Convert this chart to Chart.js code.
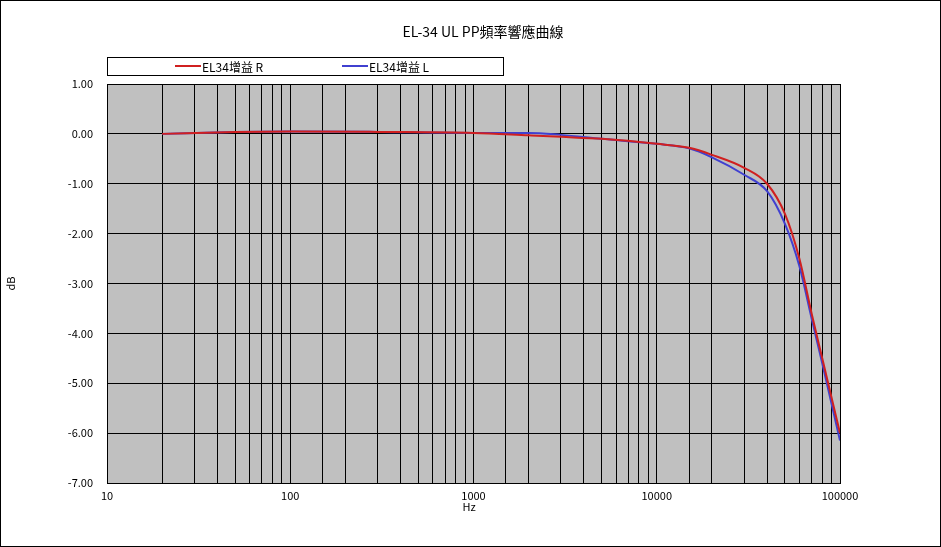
<html>
<head>
<script src="https://cdn.jsdelivr.net/npm/chart.js@4/dist/chart.umd.min.js"></script>
<style>body{margin:0;background:#fff}#wrap{width:941px;height:547px;position:relative}</style>
</head>
<body>
<div id="wrap"><canvas id="c" width="941" height="547"></canvas></div>
<script>
var freqs = [20, 50, 100, 300, 1000, 2000, 3000, 5000, 10000, 15000, 20000, 30000, 40000, 50000, 60000, 70000, 80000, 100000];
var gainR = [0, 0.04, 0.05, 0.04, 0.02, -0.03, -0.06, -0.1, -0.2, -0.28, -0.42, -0.68, -1.0, -1.6, -2.5, -3.6, -4.5, -6.0];
var gainL = [0, 0.04, 0.05, 0.04, 0.02, 0.02, -0.02, -0.1, -0.2, -0.29, -0.47, -0.82, -1.15, -1.8, -2.65, -3.7, -4.6, -6.15];
var titleText = 'EL-34 UL PP頻率響應曲線';
var labelR = 'EL34增益 R', labelL = 'EL34增益 L';
var xTitle = 'Hz';
var font = '"Noto Sans CJK TC", "DejaVu Sans", sans-serif';

function pts(v) { return freqs.map(function(f, i) { return {x: f, y: v[i]}; }); }

var deco = {
  id: 'deco',
  beforeDraw: function(ch) {
    var c = ch.ctx, a = ch.chartArea;
    c.save();
    c.fillStyle = '#c0c0c0';
    c.fillRect(a.left, a.top, a.right - a.left, a.bottom - a.top);
    c.restore();
  },
  afterDraw: function(ch) {
    var c = ch.ctx;
    c.save();
    c.strokeStyle = '#000'; c.lineWidth = 1;
    c.strokeRect(0.5, 0.5, 940, 546);
    c.fillStyle = '#000';
    c.font = '14px ' + font; c.textAlign = 'center'; c.textBaseline = 'middle';
    c.fillText(titleText, 483, 32);
    c.font = '11px ' + font;
    c.fillText(xTitle, 469, 507);
    c.fillStyle = '#fff';
    c.fillRect(107, 57, 396, 18);
    c.strokeRect(107.5, 57.5, 396, 18);
    c.font = '12px ' + font; c.textAlign = 'left';
    c.lineWidth = 2;
    c.strokeStyle = '#d02020'; c.beginPath(); c.moveTo(175, 66); c.lineTo(201, 66); c.stroke();
    c.strokeStyle = '#4040d0'; c.beginPath(); c.moveTo(342, 66); c.lineTo(368, 66); c.stroke();
    c.fillStyle = '#000';
    c.fillText(labelR, 202, 67);
    c.fillText(labelL, 369, 67);
    c.restore();
  }
};

new Chart(document.getElementById('c'), {
  type: 'line',
  data: { datasets: [
    { label: labelR, data: pts(gainR), borderColor: '#d02020', borderWidth: 2, pointRadius: 0, cubicInterpolationMode: 'monotone' },
    { label: labelL, data: pts(gainL), borderColor: '#4040d0', borderWidth: 2, pointRadius: 0, cubicInterpolationMode: 'monotone' }
  ]},
  options: {
    responsive: false, animation: false,
    layout: { padding: { left: 0, top: 84, right: 101, bottom: 0 } },
    plugins: { legend: { display: false }, title: { display: false }, tooltip: { enabled: false } },
    scales: {
      x: {
        type: 'logarithmic', min: 10, max: 100000,
        afterFit: function(s) { s.height = 64; },
        grid: { color: '#000', lineWidth: 1, drawTicks: false },
        border: { color: '#000' },
        ticks: {
          color: '#000', font: { size: 11, family: font }, padding: 6, autoSkip: false, maxRotation: 0,
          callback: function(v) { var l = Math.log10(v); return Math.abs(l - Math.round(l)) < 1e-9 ? String(v) : ''; }
        }
      },
      y: {
        min: -7, max: 1,
        afterFit: function(s) { s.width = 107; },
        grid: { color: '#000', lineWidth: 1, drawTicks: false },
        border: { color: '#000' },
        ticks: { stepSize: 1, color: '#000', font: { size: 11, family: font }, padding: 14,
          callback: function(v) { return v.toFixed(2); } },
        title: { display: true, text: 'dB', color: '#000', font: { size: 11, family: font } }
      }
    }
  },
  plugins: [deco]
});
</script>
</body>
</html>
